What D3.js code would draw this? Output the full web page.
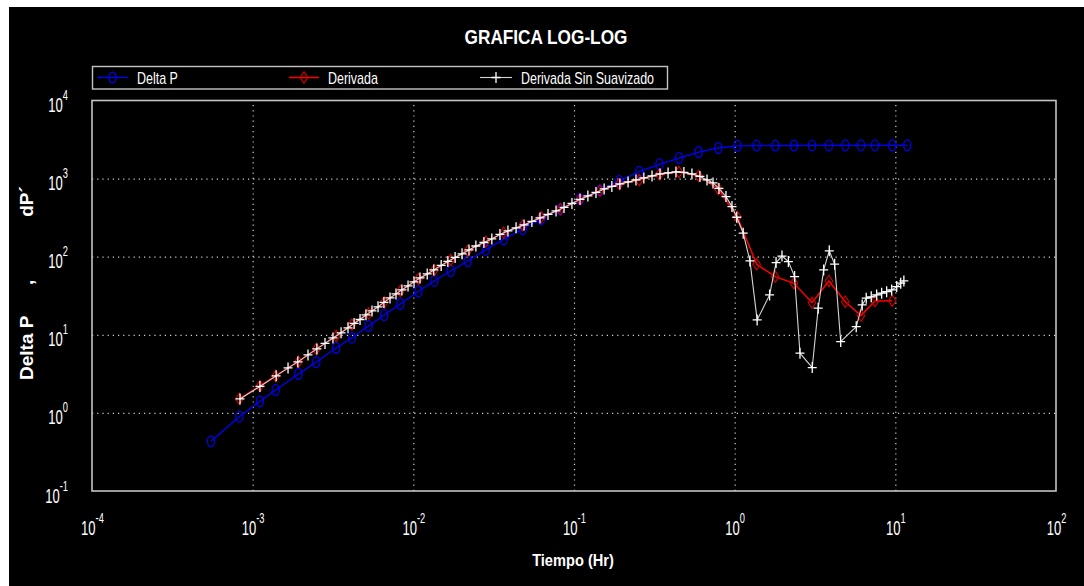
<!DOCTYPE html>
<html>
<head>
<meta charset="utf-8">
<script src="https://cdn.jsdelivr.net/npm/d3@7"></script>
<style>
  html, body { margin: 0; padding: 0; background: #ffffff; }
  svg { display: block; }
  text { font-family: "Liberation Sans", Arial, sans-serif; fill: #ffffff; }
</style>
</head>
<body>
<svg id="chart" width="1084" height="586"></svg>
<script>
// ---- data (time in hours, pressure in psi) ----
const tDelta = [5.50e-4, 8.26e-4, 1.11e-3, 1.39e-3, 1.93e-3, 2.49e-3, 3.31e-3, 4.15e-3, 5.27e-3, 6.59e-3,
  8.30e-3, 1.076e-2, 1.35e-2, 1.71e-2, 2.18e-2, 2.83e-2, 3.65e-2, 4.80e-2, 6.25e-2, 8.22e-2,
  0.109, 0.145, 0.191, 0.255, 0.340, 0.450, 0.597, 0.791, 1.04, 1.37,
  1.79, 2.34, 3.03, 3.86, 4.88, 6.11, 7.47, 9.57, 11.87];
const deltaP = [0.433, 0.894, 1.41, 1.96, 3.15, 4.48, 6.78, 9.18, 12.97, 17.9,
  24.8, 36.1, 48.9, 65.6, 88.1, 123, 167, 226, 304, 405,
  548, 704, 932, 1225, 1525, 1835, 2190, 2465, 2630, 2645,
  2650, 2655, 2660, 2660, 2665, 2665, 2665, 2670, 2670];

const tDeriv = [8.26e-4, 1.11e-3, 1.39e-3, 1.93e-3, 2.49e-3, 3.31e-3, 4.15e-3, 5.27e-3, 6.59e-3, 8.30e-3,
  1.076e-2, 1.35e-2, 1.71e-2, 2.18e-2, 2.83e-2, 3.65e-2, 4.80e-2, 6.25e-2, 8.22e-2, 0.109,
  0.145, 0.191, 0.255, 0.340, 0.450, 0.597, 0.791, 1.04, 1.37, 1.79,
  2.34, 3.03, 3.86, 4.88, 6.11, 7.47, 9.57];
const deriv = [1.51, 2.21, 2.97, 4.52, 6.58, 9.65, 13.5, 18.8, 26.1, 36.4,
  51.8, 67.6, 90.7, 119, 156, 203, 252, 320, 405, 543,
  700, 853, 960, 1135, 1215, 1089, 736, 322, 80, 55.5,
  45.6, 25.8, 48.9, 26.5, 17.6, 27.1, 27.3];

const tRaw = [8.34e-4, 1.11e-3, 1.40e-3, 1.66e-3, 1.91e-3, 2.21e-3, 2.51e-3, 2.82e-3, 3.16e-3, 3.55e-3,
  3.92e-3, 4.28e-3, 4.66e-3, 5.07e-3, 5.53e-3, 6.03e-3, 6.56e-3, 7.16e-3, 7.80e-3, 8.49e-3,
  9.27e-3, 1.01e-2, 1.10e-2, 1.22e-2, 1.34e-2, 1.49e-2, 1.64e-2, 1.82e-2, 2.01e-2, 2.22e-2,
  2.45e-2, 2.75e-2, 3.08e-2, 3.46e-2, 3.88e-2, 4.36e-2, 4.89e-2, 5.47e-2, 6.14e-2, 6.89e-2,
  7.73e-2, 8.67e-2, 9.71e-2, 0.109, 0.122, 0.137, 0.154, 0.172, 0.193, 0.217,
  0.243, 0.272, 0.306, 0.343, 0.385, 0.431, 0.483, 0.542, 0.608, 0.673,
  0.733, 0.798, 0.883, 0.962, 1.03, 1.13, 1.245, 1.38, 1.65, 1.81,
  1.97, 2.16, 2.36, 2.55, 3.04, 3.31, 3.58, 3.88, 4.19, 4.57,
  5.71, 6.22, 6.59, 7.08, 7.65, 8.22, 8.83, 9.49, 10.2, 10.8, 11.3];
const derivRaw = [1.51, 2.18, 2.98, 3.77, 4.50, 5.53, 6.60, 7.76, 9.12, 10.6,
  12.3, 14.0, 15.7, 18.0, 20.2, 22.8, 26.0, 29.7, 33.4, 37.6,
  42.3, 47.6, 53.5, 60.2, 67.7, 77.4, 87.1, 97.9, 109, 122,
  137, 152, 169, 193, 214, 234, 255, 283, 314, 348,
  386, 428, 481, 542, 600, 666, 738, 794, 855, 907,
  962, 1020, 1083, 1148, 1183, 1218, 1200, 1148, 1067, 962,
  881, 749, 588, 438, 320, 200, 88.3, 15.5, 32.4, 84.0,
  102, 86.5, 55.6, 5.81, 3.80, 21.9, 67.8, 119, 80.2, 8.19,
  12.7, 24.1, 29.4, 30.6, 32.4, 34.1, 35.7, 37.6, 41.4, 45.8, 49.0];

const xTickExp = [-4, -3, -2, -1, 0, 1, 2];
const yTickExp = [-1, 0, 1, 2, 3, 4];
const xGridExp = [-3, -2, -1, 0, 1];
const yGridExp = [0, 1, 2, 3];
const seriesNames = ["Delta P", "Derivada", "Derivada Sin Suavizado"];
const titleText = "GRAFICA LOG-LOG";
const xLabelText = "Tiempo (Hr)";

// ---- layout ----
const svg = d3.select("#chart");
const plot = { left: 92, right: 1056, top: 100.5, bottom: 491 };

svg.append("rect").attr("x", 9).attr("y", 7).attr("width", 1075).attr("height", 579).attr("fill", "#000");

const x = d3.scaleLog().domain([1e-4, 1e2]).range([plot.left, plot.right]);
const y = d3.scaleLog().domain([1e-1, 1e4]).range([plot.bottom, plot.top]);

// dotted grid
const gridStyle = g => g.call(s => s.select(".domain").remove())
  .selectAll(".tick line").attr("stroke", "#d0d0d0").attr("stroke-width", 1.2)
  .attr("stroke-dasharray", "1.2,4");
svg.append("g").attr("transform", `translate(0,${plot.bottom})`)
  .call(d3.axisBottom(x).tickValues(xGridExp.map(e => Math.pow(10, e)))
    .tickSize(-(plot.bottom - plot.top)).tickFormat(""))
  .call(gridStyle);
svg.append("g").attr("transform", `translate(${plot.left},0)`)
  .call(d3.axisLeft(y).tickValues(yGridExp.map(e => Math.pow(10, e)))
    .tickSize(-(plot.right - plot.left)).tickFormat(""))
  .call(gridStyle);

// plot frame
svg.append("rect").attr("x", plot.left).attr("y", plot.top)
  .attr("width", plot.right - plot.left).attr("height", plot.bottom - plot.top)
  .attr("fill", "none").attr("stroke", "#c4c4c4").attr("stroke-width", 1.6);

// tick labels as 10^n
function powerLabel(textSel, e) {
  textSel.text("10");
  textSel.append("tspan").attr("dy", -12).attr("font-size", 15).text(e);
}
const xAxis = svg.append("g").attr("transform", `translate(0,${plot.bottom})`)
  .call(d3.axisBottom(x).tickValues(xTickExp.map(e => Math.pow(10, e))).tickSize(0).tickFormat(""));
xAxis.select(".domain").remove();
xAxis.selectAll(".tick").each(function (d) {
  const e = Math.round(Math.log10(d));
  const t = d3.select(this).append("text")
    .attr("transform", "translate(0,44) scale(0.62,1)")
    .attr("text-anchor", "middle").attr("font-size", 21).attr("fill", "#fff");
  powerLabel(t, e);
});
const yAxis = svg.append("g").attr("transform", `translate(${plot.left},0)`)
  .call(d3.axisLeft(y).tickValues(yTickExp.map(e => Math.pow(10, e))).tickSize(0).tickFormat(""));
yAxis.select(".domain").remove();
yAxis.selectAll(".tick").each(function (d) {
  const e = Math.round(Math.log10(d));
  const t = d3.select(this).append("text")
    .attr("transform", "translate(-24,11) scale(0.62,1)")
    .attr("text-anchor", "end").attr("font-size", 21).attr("fill", "#fff");
  powerLabel(t, e);
});

// titles
svg.append("text").attr("transform", "translate(546,43.5) scale(0.82,1)")
  .attr("text-anchor", "middle").attr("font-size", 21).attr("font-weight", "bold").text(titleText);
svg.append("text").attr("transform", "translate(573,566) scale(0.86,1)")
  .attr("text-anchor", "middle").attr("font-size", 17).attr("font-weight", "bold").text(xLabelText);
const yl = svg.append("text").attr("transform", "translate(33,380) rotate(-90)")
  .attr("font-size", 19).attr("font-weight", "bold");
yl.append("tspan").text("Delta P");
yl.append("tspan").attr("dx", 33).text(",");
yl.append("tspan").attr("dx", 63).text("dP\u00b4");

// ---- markers ----
const circleMark = (g, cx, cy, color) => g.append("ellipse").attr("cx", cx).attr("cy", cy)
  .attr("rx", 3.6).attr("ry", 5.4).attr("fill", "none").attr("stroke", color).attr("stroke-width", 1.2);
const diamondMark = (g, cx, cy, color) => g.append("path")
  .attr("d", `M${cx},${cy - 5.6}L${cx + 3.8},${cy}L${cx},${cy + 5.6}L${cx - 3.8},${cy}Z`)
  .attr("fill", "none").attr("stroke", color).attr("stroke-width", 1.2);
const plusMark = (g, cx, cy, color) => g.append("path")
  .attr("d", `M${cx - 4.5},${cy}H${cx + 4.5}M${cx},${cy - 5.5}V${cy + 5.5}`)
  .attr("fill", "none").attr("stroke", color).attr("stroke-width", 1.3);

const series = [
  { name: seriesNames[0], t: tDelta, v: deltaP, line: "#0000ff", mark: "#0000ff", lw: 1.3, marker: circleMark },
  { name: seriesNames[1], t: tDeriv, v: deriv, line: "#ff0000", mark: "#c80000", lw: 1.5, marker: diamondMark },
  { name: seriesNames[2], t: tRaw, v: derivRaw, line: "#d4d4d4", mark: "#ffffff", lw: 1.1, marker: plusMark }
];

const lineGen = d3.line().x(d => x(d[0])).y(d => y(d[1]));
const dataLayer = svg.append("g");
series.forEach(s => {
  const pts = s.t.map((t, i) => [t, s.v[i]]);
  const g = dataLayer.append("g");
  g.append("path").datum(pts).attr("d", lineGen).attr("fill", "none")
    .attr("stroke", s.line).attr("stroke-width", s.lw);
  pts.forEach(p => s.marker(g, x(p[0]), y(p[1]), s.mark));
});

// ---- legend ----
const leg = svg.append("g");
leg.append("rect").attr("x", 92.5).attr("y", 66.5).attr("width", 575).attr("height", 22.5)
  .attr("fill", "#000").attr("stroke", "#c4c4c4").attr("stroke-width", 1.4);
const legPos = [{ x0: 97, x1: 128, tx: 137 }, { x0: 289, x1: 319, tx: 328 }, { x0: 480, x1: 512, tx: 521 }];
series.forEach((s, i) => {
  const p = legPos[i], cy = 77.5;
  leg.append("line").attr("x1", p.x0).attr("x2", p.x1).attr("y1", cy).attr("y2", cy)
    .attr("stroke", s.line).attr("stroke-width", s.lw);
  s.marker(leg, (p.x0 + p.x1) / 2, cy, s.mark);
  leg.append("text").attr("transform", `translate(${p.tx},83.5) scale(0.78,1)`)
    .attr("font-size", 16).text(s.name);
});
</script>
</body>
</html>
